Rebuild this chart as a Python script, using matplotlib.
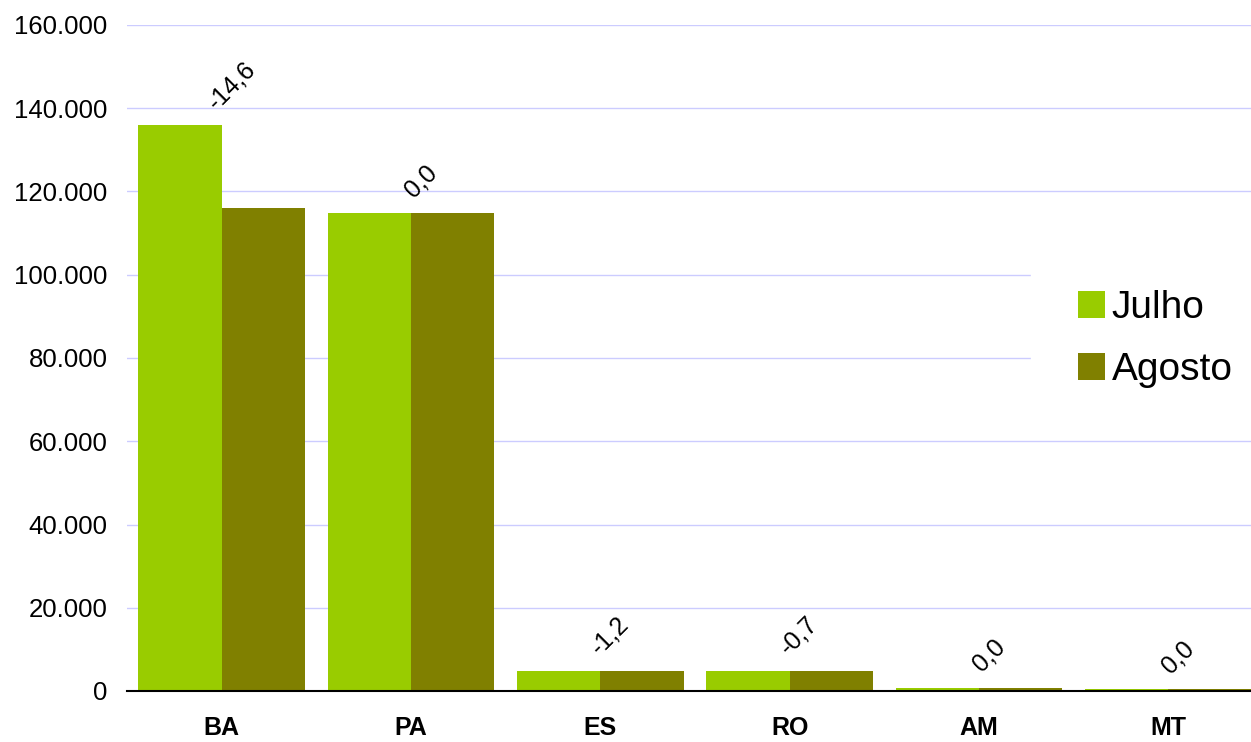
import numpy as np
import matplotlib.pyplot as plt
from matplotlib.ticker import FuncFormatter

plt.rcParams['font.family'] = ['Liberation Sans', 'DejaVu Sans']

estados = ['BA', 'PA', 'ES', 'RO', 'AM', 'MT']
julho = [136000, 114800, 4900, 4900, 800, 400]
agosto = [116100, 114800, 4840, 4870, 800, 400]
variacao = ['-14,6', '0,0', '-1,2', '-0,7', '0,0', '0,0']

cor_julho = '#99CC00'
cor_agosto = '#808000'

fig = plt.figure(figsize=(12.51, 7.42), dpi=100)
ax = fig.add_axes([127/1251, 51/742, 1136/1251, 666/742])

x = np.arange(len(estados))
w = 0.44
ax.bar(x - w/2, julho, w, color=cor_julho, label='Julho', zorder=2)
ax.bar(x + w/2, agosto, w, color=cor_agosto, label='Agosto', zorder=2)

for i, txt in enumerate(variacao):
    topo = max(julho[i], agosto[i])
    ax.annotate(txt, (x[i] + 0.05, topo), xytext=(0, 8), textcoords='offset points',
                ha='center', va='bottom', rotation=45, fontsize=18)

ax.set_xlim(-0.5, len(estados) - 0.5)
ax.set_ylim(0, 160000)
ax.set_yticks(np.arange(0, 160001, 20000))
ax.yaxis.set_major_formatter(FuncFormatter(lambda v, p: f'{int(v):,}'.replace(',', '.')))
ax.set_xticks(x)
ax.set_xticklabels(estados, fontweight='bold', fontsize=18)
ax.tick_params(axis='y', length=0, pad=14, labelsize=18.5)
ax.tick_params(axis='x', length=0, pad=18)
ax.grid(axis='y', color='#CCCCFF', linewidth=1, zorder=0)
ax.set_axisbelow(True)
for s in ['left', 'right', 'top']:
    ax.spines[s].set_visible(False)
ax.spines['bottom'].set_color('black')
ax.spines['bottom'].set_linewidth(1.5)
ax.spines['bottom'].set_zorder(3)

leg = ax.legend(loc='center left', bbox_to_anchor=(1031/1251, 1 - 339/742),
                bbox_transform=fig.transFigure, fontsize=28, frameon=True,
                fancybox=False, framealpha=1, edgecolor='white', borderpad=1.2,
                borderaxespad=0, handlelength=0.7, handleheight=0.7,
                handletextpad=0.18, labelspacing=0.68)
leg.set_zorder(5)

fig.savefig('out.png', dpi=100)
